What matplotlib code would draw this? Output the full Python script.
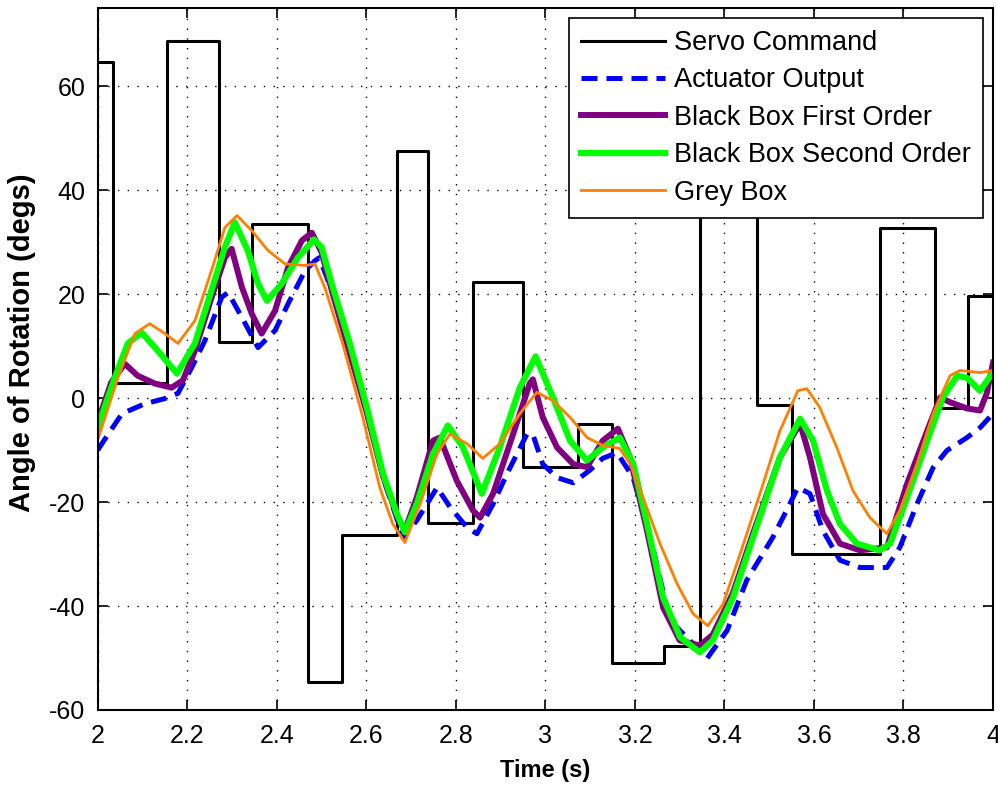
import matplotlib
matplotlib.use("Agg")
import matplotlib.pyplot as plt

plt.rcParams["font.family"] = ["Liberation Sans", "DejaVu Sans"]
plt.rcParams["axes.unicode_minus"] = False

# servo command steps (value holds until next time)
servo_t = [2.0, 2.035, 2.155, 2.27, 2.345, 2.47, 2.545, 2.668, 2.737, 2.838, 2.949,
           3.072, 3.148, 3.264, 3.345, 3.473, 3.551, 3.747, 3.870, 3.945, 4.0]
servo_v = [64.7, 2.8, 68.7, 10.7, 33.5, -54.7, -26.3, 47.5, -24.0, 22.3, -13.3,
           -5.0, -51.0, -47.6, 55.0, -1.3, -30.0, 32.8, -2.0, 19.7, 19.7]

act_t = [2.0, 2.009, 2.054, 2.105, 2.15, 2.179, 2.21, 2.239, 2.277, 2.291, 2.322,
         2.358, 2.396, 2.425, 2.463, 2.485, 2.495, 2.53, 2.565, 2.6, 2.64, 2.682,
         2.713, 2.758, 2.787, 2.825, 2.847, 2.883, 2.914, 2.959, 2.972, 2.994,
         3.026, 3.062, 3.099, 3.128, 3.16, 3.196, 3.24, 3.278, 3.316, 3.361,
         3.406, 3.45, 3.508, 3.539, 3.564, 3.591, 3.62, 3.658, 3.703, 3.763,
         3.792, 3.83, 3.866, 3.897, 3.942, 3.971, 4.0]
act_v = [-10.0, -8.8, -3.0, -1.1, -0.1, 0.9, 5.9, 11.0, 19.4, 20.3, 15.5,
         9.7, 13.0, 18.1, 24.5, 26.4, 27.0, 19.0, 9.0, -2.0, -16.0, -26.8,
         -23.5, -17.2, -21.0, -24.9, -26.1, -20.4, -14.6, -6.9, -7.0, -12.7,
         -15.3, -16.3, -13.9, -11.6, -10.5, -15.3, -28.8, -42.8, -46.0, -50.1,
         -44.7, -35.0, -26.8, -21.6, -17.2, -18.4, -25.5, -31.2, -32.6, -32.6,
         -28.7, -20.4, -13.4, -10.1, -7.6, -5.7, -3.0]

bb1_t = [2.0, 2.03, 2.06, 2.089, 2.127, 2.165, 2.19, 2.217, 2.254, 2.284, 2.299,
         2.322, 2.344, 2.366, 2.396, 2.425, 2.456, 2.478, 2.5, 2.525, 2.56, 2.6,
         2.637, 2.668, 2.686, 2.713, 2.749, 2.764, 2.802, 2.838, 2.854, 2.883,
         2.928, 2.965, 2.972, 2.994, 3.026, 3.062, 3.093, 3.128, 3.162, 3.189,
         3.227, 3.263, 3.3, 3.345, 3.374, 3.419, 3.464, 3.524, 3.569, 3.591,
         3.62, 3.658, 3.703, 3.763, 3.808, 3.853, 3.882, 3.904, 3.942, 3.971,
         3.986, 4.0]
bb1_v = [-4.5, 3.0, 6.6, 4.3, 2.8, 2.0, 3.4, 9.1, 19.3, 27.0, 28.7,
         21.3, 16.2, 12.4, 16.8, 25.1, 30.3, 31.8, 28.0, 20.0, 9.5, -2.5,
         -15.0, -22.5, -25.5, -19.0, -8.2, -7.6, -15.9, -21.6, -23.0, -18.4,
         -6.9, 2.8, 3.6, -3.7, -9.5, -12.7, -13.3, -8.2, -5.9, -11.4,
         -25.5, -40.3, -46.6, -47.6, -45.5, -37.5, -26.0, -11.4, -4.9, -11.4,
         -22.3, -28.0, -29.3, -28.7, -16.5, -6.3, 0.1, -0.8, -2.0, -2.4,
         0.9, 6.8]

bb2_t = [2.0, 2.038, 2.067, 2.098, 2.134, 2.177, 2.217, 2.254, 2.284, 2.306, 2.335,
         2.358, 2.378, 2.411, 2.447, 2.483, 2.5, 2.525, 2.563, 2.601, 2.637,
         2.668, 2.686, 2.713, 2.749, 2.782, 2.816, 2.858, 2.898, 2.943, 2.978,
         3.017, 3.055, 3.093, 3.128, 3.166, 3.196, 3.227, 3.263, 3.301, 3.345,
         3.374, 3.419, 3.464, 3.524, 3.569, 3.598, 3.629, 3.658, 3.696, 3.747,
         3.77, 3.808, 3.853, 3.888, 3.92, 3.942, 3.971, 4.0]
bb2_v = [-5.5, 3.9, 10.5, 12.6, 9.1, 4.7, 10.5, 20.7, 29.0, 33.8, 28.4,
         22.0, 18.7, 22.0, 27.0, 30.5, 29.0, 21.3, 10.5, -1.8, -14.5,
         -22.2, -25.8, -20.3, -10.7, -5.3, -9.5, -18.4, -9.5, 2.0, 8.0,
         0.1, -8.2, -12.0, -9.5, -7.6, -12.6, -24.1, -38.4, -46.0, -48.9,
         -46.6, -38.4, -26.8, -11.4, -4.0, -8.2, -17.8, -24.2, -28.0, -29.3,
         -28.0, -19.1, -8.2, 0.1, 4.3, 3.9, 1.4, 4.9]

grey_t = [2.0, 2.045, 2.083, 2.116, 2.15, 2.179, 2.217, 2.254, 2.284, 2.311, 2.344,
          2.38, 2.418, 2.463, 2.485, 2.507, 2.547, 2.592, 2.63, 2.659, 2.686,
          2.72, 2.758, 2.787, 2.825, 2.86, 2.898, 2.943, 2.981, 3.017, 3.055,
          3.093, 3.128, 3.166, 3.189, 3.218, 3.256, 3.294, 3.33, 3.363, 3.397,
          3.435, 3.479, 3.524, 3.564, 3.584, 3.613, 3.651, 3.687, 3.725, 3.763,
          3.792, 3.83, 3.866, 3.904, 3.926, 3.971, 4.0]
grey_v = [-8.0, 3.9, 12.4, 14.3, 12.4, 10.5, 14.9, 24.5, 32.8, 35.1, 32.2,
          28.4, 25.8, 25.5, 25.8, 21.3, 10.5, -3.7, -17.2, -24.2, -27.8,
          -20.4, -10.7, -6.9, -8.8, -11.6, -8.8, -3.0, 1.1, -0.5, -3.7,
          -7.6, -9.1, -9.7, -12.6, -19.1, -28.0, -35.7, -41.5, -43.8, -39.6,
          -30.0, -18.5, -6.3, 1.4, 1.8, -1.8, -9.5, -17.8, -23.0, -26.1,
          -21.6, -12.7, -3.0, 4.3, 5.3, 4.9, 5.3]

fig = plt.figure(figsize=(9.98, 7.86), dpi=100)
ax = fig.add_axes([0.098, 0.0967, 0.897, 0.893])

ax.plot(servo_t, servo_v, color="black", lw=2.2, drawstyle="steps-post", label="Servo Command")
ax.plot(act_t, act_v, color="#0000ff", lw=3.6, ls=(0, (3.2, 1.8)), label="Actuator Output")
ax.plot(bb1_t, bb1_v, color="#800080", lw=4.3, label="Black Box First Order")
ax.plot(bb2_t, bb2_v, color="#00ff00", lw=4.5, label="Black Box Second Order")
ax.plot(grey_t, grey_v, color="#ff8000", lw=2.0, label="Grey Box")

ax.set_xlim(2, 4)
ax.set_ylim(-60, 75)
ax.set_xticks([2, 2.2, 2.4, 2.6, 2.8, 3, 3.2, 3.4, 3.6, 3.8, 4])
ax.set_xticklabels(["2", "2.2", "2.4", "2.6", "2.8", "3", "3.2", "3.4", "3.6", "3.8", "4"])
ax.set_yticks([-60, -40, -20, 0, 20, 40, 60])
ax.grid(True, color="black", ls=(0, (1, 6)), lw=1.0)
ax.tick_params(direction="in", length=7, width=1.2, labelsize=18, top=True, right=True)
ax.tick_params(axis="x", pad=10)
ax.tick_params(axis="y", pad=9)
for s in ax.spines.values():
    s.set_linewidth(1.5)

ax.set_xlabel("Time (s)", fontsize=17, fontweight="bold", labelpad=8)
ax.set_ylabel("Angle of Rotation (degs)", fontsize=21, fontweight="bold")
ax.yaxis.set_label_coords(-0.069, 0.524)

leg = ax.legend(loc="upper right", fontsize=19.5, handlelength=3.1, fancybox=False,
                framealpha=1, edgecolor="black", borderaxespad=0.36,
                labelspacing=0.42, borderpad=0.45, handletextpad=0.35)
leg.get_frame().set_linewidth(1.2)

fig.savefig("out.png", dpi=100)
